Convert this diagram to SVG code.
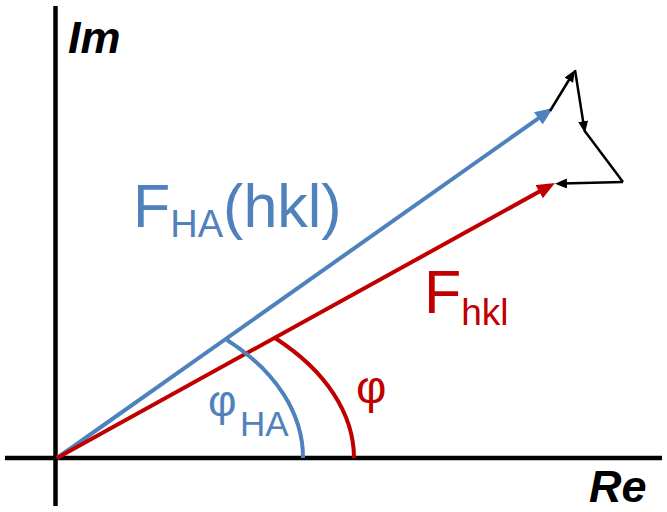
<svg xmlns="http://www.w3.org/2000/svg" width="667" height="512" viewBox="0 0 667 512">
<style>
.ax{stroke:#000;stroke-width:4.5;fill:none}
.bl{stroke:#4F81BD;stroke-width:4;fill:none}
.rd{stroke:#C00000;stroke-width:4;fill:none}
.bk{stroke:#000;stroke-width:2.5;fill:none}
text{font-family:"Liberation Sans",Arial,sans-serif}
.axl{font-weight:bold;font-style:italic;font-size:45px;fill:#000}
.tb{fill:#4F81BD}
.tr{fill:#C00000}
</style>
<defs>
<marker id="ab" markerUnits="userSpaceOnUse" markerWidth="20" markerHeight="16" refX="8" refY="7.5" orient="auto"><path d="M0,0 L18,7.5 L0,15 z" fill="#4F81BD"/></marker>
<marker id="ar" markerUnits="userSpaceOnUse" markerWidth="20" markerHeight="16" refX="8" refY="7.5" orient="auto"><path d="M0,0 L18,7.5 L0,15 z" fill="#C00000"/></marker>
<marker id="ak" markerUnits="userSpaceOnUse" markerWidth="14" markerHeight="12" refX="5" refY="5" orient="auto"><path d="M0,0 L12,5 L0,10 z" fill="#000"/></marker>
</defs>
<g id="axes">
<line class="ax" x1="55.5" y1="6" x2="55.5" y2="506"/>
<line class="ax" x1="5" y1="458" x2="662" y2="458"/>
</g>
<g id="connectors">
<line class="bl" x1="57" y1="458" x2="544.8" y2="113.8" marker-end="url(#ab)"/>
<line class="rd" x1="57" y1="458" x2="546.2" y2="187.8" marker-end="url(#ar)"/>
<path class="bl" d="M303,458 A247,163 0 0 0 227,340"/>
<path class="rd" d="M354,458 A297,177 0 0 0 275,338"/>
<line class="bk" x1="550" y1="111" x2="571.4" y2="76" marker-end="url(#ak)"/>
<line class="bk" x1="575" y1="70" x2="583.9" y2="126.1" marker-end="url(#ak)"/>
<line class="bk" x1="584" y1="130" x2="623" y2="182"/>
<line class="bk" x1="623" y1="182" x2="562" y2="183.6" marker-end="url(#ak)"/>
</g>
<g id="label-im"><text class="axl" x="68" y="53">Im</text></g>
<g id="label-re"><text class="axl" x="589" y="502">Re</text></g>
<g id="label-fha"><text class="tb" x="133" y="227" font-size="61">F<tspan font-size="38" dy="10">HA</tspan><tspan dy="-10">(hkl)</tspan></text></g>
<g id="label-fhkl"><text class="tr" x="424" y="313" font-size="61">F<tspan font-size="37" dy="12">hkl</tspan></text></g>
<g id="label-phi"><text class="tr" x="356" y="403" font-size="47">φ</text></g>
<g id="label-phiha"><text class="tb" x="208" y="416" font-size="44">φ<tspan x="240" y="436" font-size="35">HA</tspan></text></g>
</svg>
